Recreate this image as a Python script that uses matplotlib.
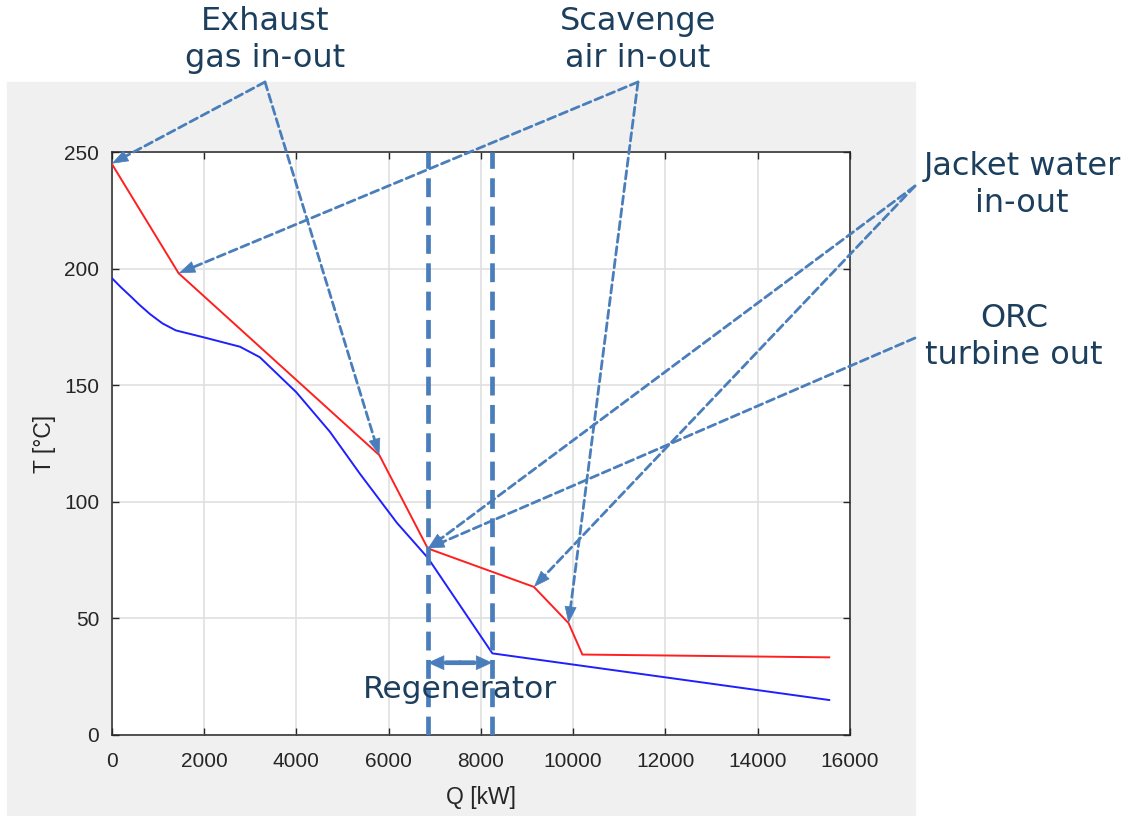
import numpy as np
import matplotlib.pyplot as plt
from matplotlib.patches import Rectangle

# heat source (red) and ORC working fluid (blue), Q [kW] vs T [°C]
q_hot = [0, 1450, 5800, 6850, 9150, 9900, 10200, 15550]
t_hot = [245, 198, 120, 80, 63.5, 48, 34.5, 33.3]

q_cold = [0, 200, 400, 600, 830, 1100, 1390, 2000, 2780, 3210, 4000, 4730, 5380, 6180,
          6850, 8250, 15550]
t_cold = [196, 192, 188.3, 184.5, 180.5, 176.5, 173.5, 170.5, 166.5, 162, 147, 130, 112, 91,
          76, 35, 15]

regen_q = [6850, 8250]
regen_t = 31

x_ticks = [0, 2000, 4000, 6000, 8000, 10000, 12000, 14000, 16000]
y_ticks = [0, 50, 100, 150, 200, 250]

W, H = 1129, 816
TXT = "#1d3f5e"
ARR = "#4a7ebb"
AX_C = "#262626"

fig = plt.figure(figsize=(W / 100, H / 100), dpi=100)
fig.patch.set_facecolor("white")
# grey MATLAB figure panel
fig.patches.append(Rectangle((7 / W, 0), (915 - 7) / W, (816 - 82) / H,
                             transform=fig.transFigure, color="#f0f0f0", zorder=-10))

ax = fig.add_axes([111.7 / W, (H - 735) / H, (850 - 111.7) / W, (735 - 152) / H])
ax.set_facecolor("white")

ax.plot(q_hot, t_hot, color="#ff1f1f", lw=1.4, zorder=3)
ax.plot(q_cold, t_cold, color="#1f1fff", lw=1.4, zorder=3)

ax.set_xlim(0, 16000)
ax.set_ylim(0, 250)
ax.set_xticks(x_ticks)
ax.set_yticks(y_ticks)
ax.grid(True, color="#e0e0e0", lw=1.2)
ax.set_axisbelow(True)
for s in ax.spines.values():
    s.set_color(AX_C)
    s.set_linewidth(1.1)
ax.tick_params(direction="in", top=True, right=True, length=5, width=1,
               color=AX_C, labelcolor=AX_C, labelsize=15, labelfontfamily="Liberation Sans")
ax.tick_params(axis="x", pad=12)
ax.tick_params(axis="y", pad=9)
ax.set_xlabel("Q [kW]", fontsize=16.5, color=AX_C, family="Liberation Sans", labelpad=11)
ax.set_ylabel("T [°C]", fontsize=16.5, color=AX_C, family="Liberation Sans", labelpad=6)


def fy(py):
    return H - py


def dashed_arrow(xy, start, lw, dash, head_len, head_w, start_in_fig=True):
    """Dashed shaft with a solid filled head; sizes in points."""
    p1 = ax.transData.transform(xy)
    if start_in_fig:
        p0 = np.array(start, dtype=float)
        tc = "figure pixels"
    else:
        p0 = ax.transData.transform(start)
        tc = "data"
    u = (p1 - p0) / np.hypot(*(p1 - p0))
    ax.annotate("", xy=xy, xytext=start, textcoords=tc, annotation_clip=False,
                arrowprops=dict(arrowstyle="-", color=ARR, lw=lw, linestyle=(0, dash),
                                shrinkA=0, shrinkB=head_len * 0.8), zorder=6)
    back = -u * head_len
    ax.annotate("", xy=xy, xytext=(back[0], back[1]), textcoords="offset points",
                annotation_clip=False,
                arrowprops=dict(arrowstyle=f"-|>,head_length={head_len},head_width={head_w}",
                                color=ARR, lw=0.5, mutation_scale=1,
                                shrinkA=0, shrinkB=0), zorder=7)


# regenerator boundaries
for q in regen_q:
    ax.axvline(q, color=ARR, lw=3.4, dashes=(4, 2), zorder=4)
mid = sum(regen_q) / 2
dashed_arrow((regen_q[0], regen_t), (mid, regen_t), 3.4, (3, 2), 11, 5, start_in_fig=False)
dashed_arrow((regen_q[1], regen_t), (mid, regen_t), 3.4, (3, 2), 11, 5, start_in_fig=False)
ax.text(mid, 19.5, "Regenerator", fontsize=22.5, color=TXT,
        family="DejaVu Sans", ha="center", va="center", zorder=8)

# (label, text centre px, arrow start px, target indices on hot curve)
notes = [
    ("Exhaust\ngas in-out", (265, 40), (265, 82), [0, 2]),
    ("Scavenge\nair in-out", (638, 40), (638, 82), [1, 5]),
    ("Jacket water\nin-out", (1022, 185), (915, 186), [3, 4]),
    ("ORC\nturbine out", (1014, 337), (915, 338), [3]),
]
for label, (tx, ty), (sx, sy), idx in notes:
    fig.text(tx / W, fy(ty) / H, label, fontsize=23, color=TXT, family="DejaVu Sans",
             ha="center", va="center", linespacing=1.25)
    for i in idx:
        dashed_arrow((q_hot[i], t_hot[i]), (sx, fy(sy)), 2, (3, 1.6), 11, 4)

fig.savefig("out.png", dpi=100)
